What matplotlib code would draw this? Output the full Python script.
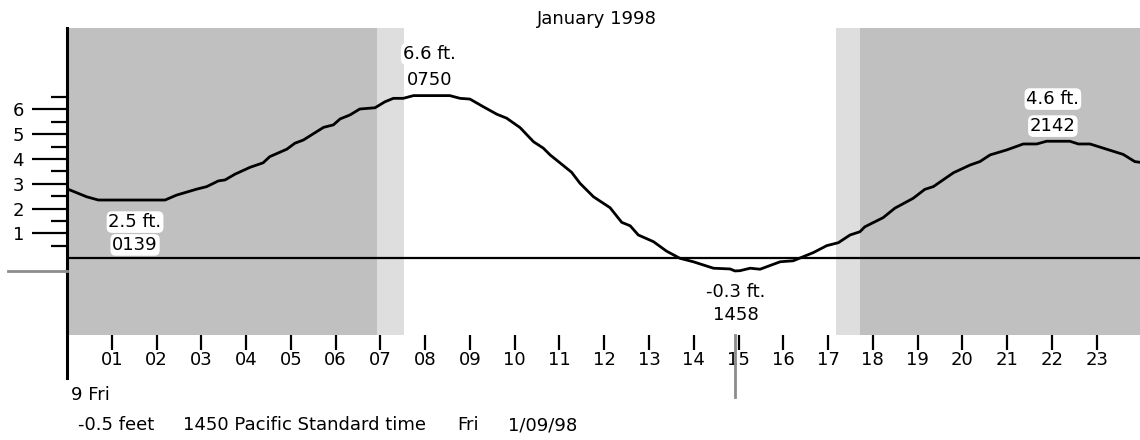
import matplotlib
matplotlib.use("Agg")
import matplotlib.pyplot as plt

# tide curve, hours after midnight vs feet
hours = [0.03, 0.44, 0.70, 2.19, 2.45, 2.90, 3.12, 3.38, 3.53, 3.75, 4.09, 4.38,
         4.53, 4.91, 5.09, 5.28, 5.73, 5.95, 6.10, 6.32, 6.54, 6.88, 7.10, 7.29,
         7.51, 7.74, 8.55, 8.78, 9.00, 9.30, 9.60, 9.82, 10.12, 10.42, 10.64,
         10.79, 11.01, 11.27, 11.46, 11.76, 12.13, 12.39, 12.58, 12.76, 13.10,
         13.39, 13.69, 13.99, 14.44, 14.81, 14.92, 15.03, 15.26, 15.48, 15.93,
         16.22, 16.67, 16.97, 17.23, 17.49, 17.71, 17.82, 18.23, 18.49, 18.90,
         19.16, 19.35, 19.80, 20.17, 20.39, 20.62, 20.99, 21.36, 21.66, 21.88,
         22.40, 22.59, 22.85, 23.22, 23.59, 23.85, 23.97]
feet = [2.78, 2.48, 2.35, 2.35, 2.55, 2.79, 2.89, 3.12, 3.16, 3.39, 3.67, 3.85,
        4.10, 4.40, 4.64, 4.77, 5.28, 5.38, 5.62, 5.78, 6.02, 6.07, 6.31, 6.45,
        6.45, 6.56, 6.56, 6.45, 6.42, 6.11, 5.81, 5.65, 5.27, 4.70, 4.44,
        4.17, 3.85, 3.47, 3.02, 2.48, 2.04, 1.45, 1.31, 0.94, 0.67,
        0.29, 0.00, -0.14, -0.40, -0.43, -0.51, -0.50, -0.40, -0.44, -0.14,
        -0.10, 0.23, 0.51, 0.63, 0.94, 1.07, 1.27, 1.64, 2.02, 2.42,
        2.78, 2.89, 3.45, 3.76, 3.90, 4.17, 4.37, 4.61, 4.61, 4.72,
        4.72, 4.61, 4.61, 4.40, 4.19, 3.90, 3.87]

# twilight / night shading (hours)
night_spans = [(0.0, 6.92), (17.71, 24.0)]
twilight_spans = [(6.92, 7.53), (17.18, 17.71)]

# high / low tide labels
tide_heights = ["6.6 ft.", "2.5 ft.", "-0.3 ft.", "4.6 ft."]
tide_times = ["0750", "0139", "1458", "2142"]

# current reading (marker sits just past 1450 in the picture)
now_hour = 14.92
now_feet = -0.5
status_parts = ["-0.5 feet", "1450 Pacific Standard time", "Fri", "1/09/98"]

hour_labels = ["%02d" % h for h in range(1, 24)]
y_major = [1, 2, 3, 4, 5, 6]
y_minor = [0.5, 1.5, 2.5, 3.5, 4.5, 5.5, 6.5]

FS = 13
W, H = 1140, 440
fig = plt.figure(figsize=(W / 100, H / 100), dpi=100)
ax = fig.add_axes([67 / W, 1 - 335 / H, 1074.5 / W, (335 - 28) / H])

ppf = 24.8  # pixels per foot
ymin = (258.3 - 335) / ppf
ymax = (258.3 - 28) / ppf
ax.set_xlim(0, 24)
ax.set_ylim(ymin, ymax)

for a, b in night_spans:
    ax.axvspan(a, b, color="#c0c0c0", lw=0, zorder=0)
for a, b in twilight_spans:
    ax.axvspan(a, b, color="#dedede", lw=0, zorder=0)

ax.axhline(0, color="black", lw=1.6, zorder=2)
ax.plot(hours, feet, color="black", lw=2, zorder=3)

for s in ax.spines.values():
    s.set_visible(False)

# y axis line, running down past the hour labels
ax.plot([0, 0], [(258.3 - 378) / ppf, ymax], color="black", lw=2.2,
        clip_on=False, zorder=4)

ax.set_xticks(range(1, 24))
ax.set_xticklabels(hour_labels, fontsize=FS)
ax.tick_params(axis="x", direction="out", length=10.5, width=1.6, pad=1)

ax.set_yticks(y_major)
ax.set_yticklabels([str(v) for v in y_major], fontsize=FS)
ax.set_yticks(y_minor, minor=True)
ax.tick_params(axis="y", which="major", direction="out", length=25, width=1.6, pad=6)
ax.tick_params(axis="y", which="minor", direction="out", length=11.5, width=1.6)

# current time marker
ax.plot([(8 - 67) / 44.77, 0], [now_feet, now_feet], color="#8c8c8c", lw=2,
        clip_on=False, zorder=4)
ax.plot([now_hour, now_hour], [ymin, (258.3 - 397) / ppf], color="#8c8c8c",
        lw=2, clip_on=False, zorder=4)

# label placement (hour, feet of first line, feet of second line)
label_pos = [(8.09, 8.24, 7.20), (1.52, 1.46, 0.54),
             (14.94, -1.36, -2.29), (22.02, 6.42, 5.33)]
box = dict(boxstyle="round,pad=0.1,rounding_size=0.3", fc="white", ec="none")
for (lx, y1, y2), ht, tt in zip(label_pos, tide_heights, tide_times):
    ax.text(lx, y1, ht, ha="center", va="center", fontsize=FS, bbox=box, zorder=5)
    ax.text(lx, y2, tt, ha="center", va="center", fontsize=FS, bbox=box, zorder=5)

fig.text(537 / W, 1 - 19 / H, "January 1998", ha="left", va="center", fontsize=FS)
fig.text(71 / W, 1 - 395 / H, "9 Fri", ha="left", va="center", fontsize=FS)
for px, part in zip([78, 183, 457, 508], status_parts):
    fig.text(px / W, 1 - 425 / H, part, ha="left", va="center", fontsize=FS)

fig.savefig("out.png", dpi=100)
